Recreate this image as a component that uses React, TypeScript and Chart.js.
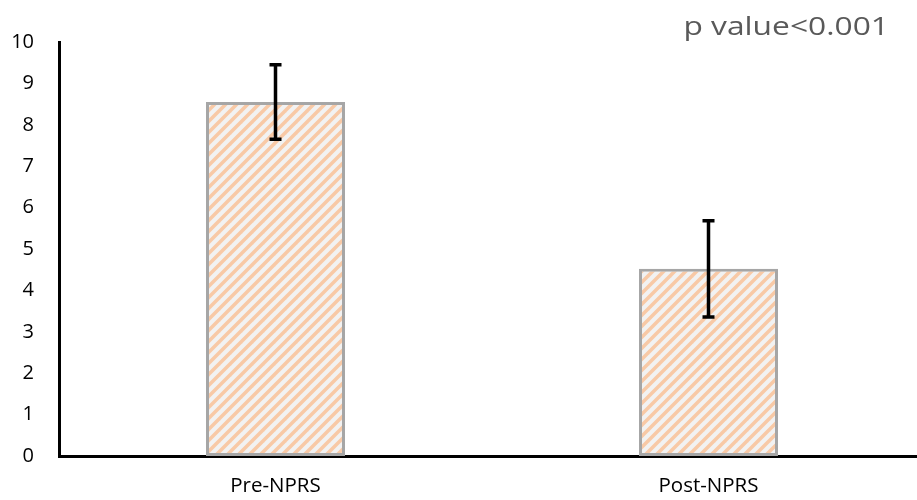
import React, { useEffect, useRef } from "react";
import { Chart, registerables } from "chart.js";

Chart.register(...registerables);

const categories = ["Pre-NPRS", "Post-NPRS"];
const meanValues = [8.55, 4.52];
const sdValues = [0.9, 1.16];
const yTicks = [0, 1, 2, 3, 4, 5, 6, 7, 8, 9, 10];
const annotationText = "p value<0.001";

function makePattern(): CanvasPattern | string {
  const c = document.createElement("canvas");
  const s = 11;
  c.width = s;
  c.height = s;
  const ctx = c.getContext("2d");
  if (!ctx) return "#F2F2F2";
  ctx.fillStyle = "#F2F2F2";
  ctx.fillRect(0, 0, s, s);
  ctx.strokeStyle = "#F8C9A6";
  ctx.lineWidth = 3.5;
  ctx.lineCap = "square";
  for (const off of [-s, 0, s]) {
    ctx.beginPath();
    ctx.moveTo(off, s);
    ctx.lineTo(off + s, 0);
    ctx.stroke();
  }
  return ctx.createPattern(c, "repeat") || "#F2F2F2";
}

const errorBarPlugin = {
  id: "errorBars",
  afterDatasetsDraw(chart: any) {
    const ctx = chart.ctx;
    const meta = chart.getDatasetMeta(0);
    const yScale = chart.scales.y;
    ctx.save();
    ctx.strokeStyle = "#000000";
    ctx.lineWidth = 3.5;
    meta.data.forEach((bar: any, i: number) => {
      const x = bar.x;
      const hi = yScale.getPixelForValue(meanValues[i] + sdValues[i]);
      const lo = yScale.getPixelForValue(meanValues[i] - sdValues[i]);
      ctx.beginPath();
      ctx.moveTo(x, hi);
      ctx.lineTo(x, lo);
      ctx.moveTo(x - 6, hi);
      ctx.lineTo(x + 6, hi);
      ctx.moveTo(x - 6, lo);
      ctx.lineTo(x + 6, lo);
      ctx.stroke();
    });
    ctx.restore();
  },
};

const annotationPlugin = {
  id: "pValueText",
  afterDraw(chart: any) {
    const ctx = chart.ctx;
    ctx.save();
    ctx.fillStyle = "#595959";
    ctx.font = "25px 'Open Sans'";
    ctx.textAlign = "right";
    ctx.textBaseline = "alphabetic";
    ctx.translate(889, 35);
    ctx.scale(1.27, 1);
    ctx.fillText(annotationText, 0, 0);
    ctx.restore();
  },
};

export default function App() {
  const ref = useRef<HTMLCanvasElement | null>(null);
  useEffect(() => {
    if (!ref.current) return;
    const chart = new Chart(ref.current, {
      type: "bar",
      data: {
        labels: categories,
        datasets: [
          {
            data: meanValues,
            backgroundColor: makePattern() as any,
            borderColor: "#A6A6A6",
            borderWidth: 3,
            borderSkipped: false,
            categoryPercentage: 1,
            barPercentage: 0.321,
          },
        ],
      },
      options: {
        responsive: false,
        animation: false,
        devicePixelRatio: 1,
        layout: { padding: { top: 42, right: 5, left: 0, bottom: 0 } },
        plugins: {
          legend: { display: false },
          tooltip: { enabled: false },
        },
        scales: {
          x: {
            grid: { display: false, drawTicks: false },
            border: { display: true, color: "#000000", width: 3 },
            ticks: {
              color: "#000000",
              font: { family: "'Open Sans'", size: 20.5 },
              padding: 18,
            },
            afterFit(scale: any) {
              scale.height = 44;
            },
          },
          y: {
            min: 0,
            max: 10,
            afterBuildTicks(scale: any) {
              scale.ticks = yTicks.map((v) => ({ value: v }));
            },
            grid: { display: false, drawTicks: false },
            border: { display: true, color: "#000000", width: 3 },
            ticks: {
              color: "#000000",
              font: { family: "'Open Sans'", size: 20 },
              padding: 25,
            },
            afterFit(scale: any) {
              scale.width = 59;
            },
          },
        },
      },
      plugins: [errorBarPlugin, annotationPlugin],
    });
    return () => chart.destroy();
  }, []);
  return (
    <div
      style={{
        position: "absolute",
        left: 0,
        top: 0,
        width: 917,
        height: 500,
        overflow: "hidden",
        background: "#ffffff",
      }}
    >
      <canvas ref={ref} width={930} height={500} />
    </div>
  );
}
